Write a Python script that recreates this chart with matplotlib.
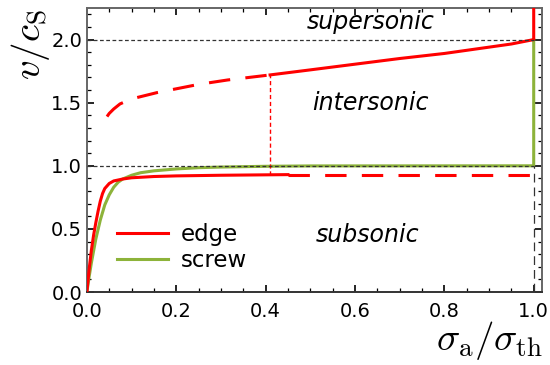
import matplotlib
matplotlib.use('Agg')
import matplotlib.pyplot as plt
import numpy as np
from matplotlib.ticker import MultipleLocator

# edge dislocation, stable subsonic branch
edge_x = [0, 0.005, 0.01, 0.015, 0.02, 0.025, 0.03, 0.035, 0.04, 0.05, 0.06,
          0.08, 0.1, 0.15, 0.2, 0.3, 0.45]
edge_v = [0, 0.18, 0.33, 0.45, 0.55, 0.64, 0.72, 0.78, 0.82, 0.86, 0.88,
          0.895, 0.905, 0.915, 0.92, 0.925, 0.93]
# edge subsonic, continued (dashed)
edge_sub_dash_x = [0.45, 1.0]
edge_sub_dash_v = [0.93, 0.93]
# edge unstable intersonic branch (dashed)
edge_int_dash_x = [0.045, 0.05, 0.06, 0.074, 0.1, 0.157, 0.2, 0.25, 0.315, 0.41]
edge_int_dash_v = [1.39, 1.415, 1.45, 1.49, 1.53, 1.58, 1.61, 1.645, 1.68, 1.72]
# edge stable intersonic branch
edge_int_x = [0.41, 0.5, 0.6, 0.7, 0.8, 0.9, 0.95, 1.0, 1.0]
edge_int_v = [1.72, 1.76, 1.805, 1.85, 1.89, 1.94, 1.965, 2.0, 2.3]
# jump at sigma = 0.41
jump_x = [0.41, 0.41]
jump_v = [0.93, 1.72]

# screw dislocation
screw_x = [0, 0.005, 0.01, 0.02, 0.03, 0.04, 0.05, 0.06, 0.07, 0.08, 0.1,
           0.12, 0.15, 0.2, 0.25, 0.3, 0.4, 0.5, 1.0, 1.0]
screw_v = [0, 0.12, 0.23, 0.42, 0.57, 0.69, 0.77, 0.83, 0.87, 0.895, 0.925,
           0.945, 0.96, 0.975, 0.985, 0.99, 0.996, 0.999, 1.0, 2.0]

regimes = ['supersonic', 'intersonic', 'subsonic']
regime_x = [0.635, 0.635, 0.628]
regime_v = [2.14, 1.5, 0.45]

red = '#ff0000'
green = '#8db33a'

plt.rcParams['mathtext.fontset'] = 'cm'
fig = plt.figure(figsize=(5.5, 3.65), dpi=100)
ax = fig.add_axes([0.158, 0.2, 0.827, 0.778])

ax.plot([0, 1.0], [1, 1], color='#333333', lw=0.9, dashes=(3, 2), zorder=4)
ax.plot([0, 1.0], [2, 2], color='#333333', lw=0.9, dashes=(3, 2), zorder=4)
ax.plot([1.0, 1.0], [0, 1], color='#333333', lw=0.9, dashes=(7, 4), zorder=4)

ax.plot(screw_x, screw_v, color=green, lw=2.2, label='screw', zorder=2)
ax.plot(edge_x, edge_v, color=red, lw=2.2, label='edge', zorder=3)
ax.plot(edge_sub_dash_x, edge_sub_dash_v, color=red, lw=2.2, dashes=(7, 5), zorder=3)
ax.plot(edge_int_dash_x, edge_int_dash_v, color=red, lw=2.2, dashes=(7, 5), zorder=3)
ax.plot(edge_int_x, edge_int_v, color=red, lw=2.2, zorder=3)
ax.plot(jump_x, jump_v, color=red, lw=1.0, dashes=(3, 2), zorder=3)

for name, x, v in zip(regimes, regime_x, regime_v):
    ax.text(x, v, name, style='italic', fontsize=17, ha='center', va='center')

ax.set_xlim(0, 1.018)
ax.set_ylim(0, 2.25)
ax.xaxis.set_major_locator(MultipleLocator(0.2))
ax.xaxis.set_minor_locator(MultipleLocator(0.05))
ax.yaxis.set_major_locator(MultipleLocator(0.5))
ax.yaxis.set_minor_locator(MultipleLocator(0.1))
ax.tick_params(which='both', direction='in', top=True, right=True, labelsize=14)
ax.tick_params(which='major', length=5, width=1.2)
ax.tick_params(which='minor', length=3, width=0.9)
ax.tick_params(axis='x', which='major', pad=7)
for s in ax.spines.values():
    s.set_color('#666666')
    s.set_linewidth(1.4)
ax.spines['bottom'].set_color('#333333')

ax.text(-0.125, 0.87, r'$v/c_\mathrm{S}$', fontsize=28, rotation=90,
        ha='center', va='center', transform=ax.transAxes)
ax.text(0.886, -0.17, r'$\sigma_\mathrm{a}/\sigma_\mathrm{th}$', fontsize=28,
        ha='center', va='center', transform=ax.transAxes)

handles, labels = ax.get_legend_handles_labels()
ax.legend(handles[::-1], labels[::-1], loc='center left', bbox_to_anchor=(0.066, 0.157),
          frameon=False, fontsize=16.5, handlelength=2.25, handletextpad=0.55,
          labelspacing=0.1, borderpad=0, borderaxespad=0)

fig.savefig('out.png', dpi=100)
